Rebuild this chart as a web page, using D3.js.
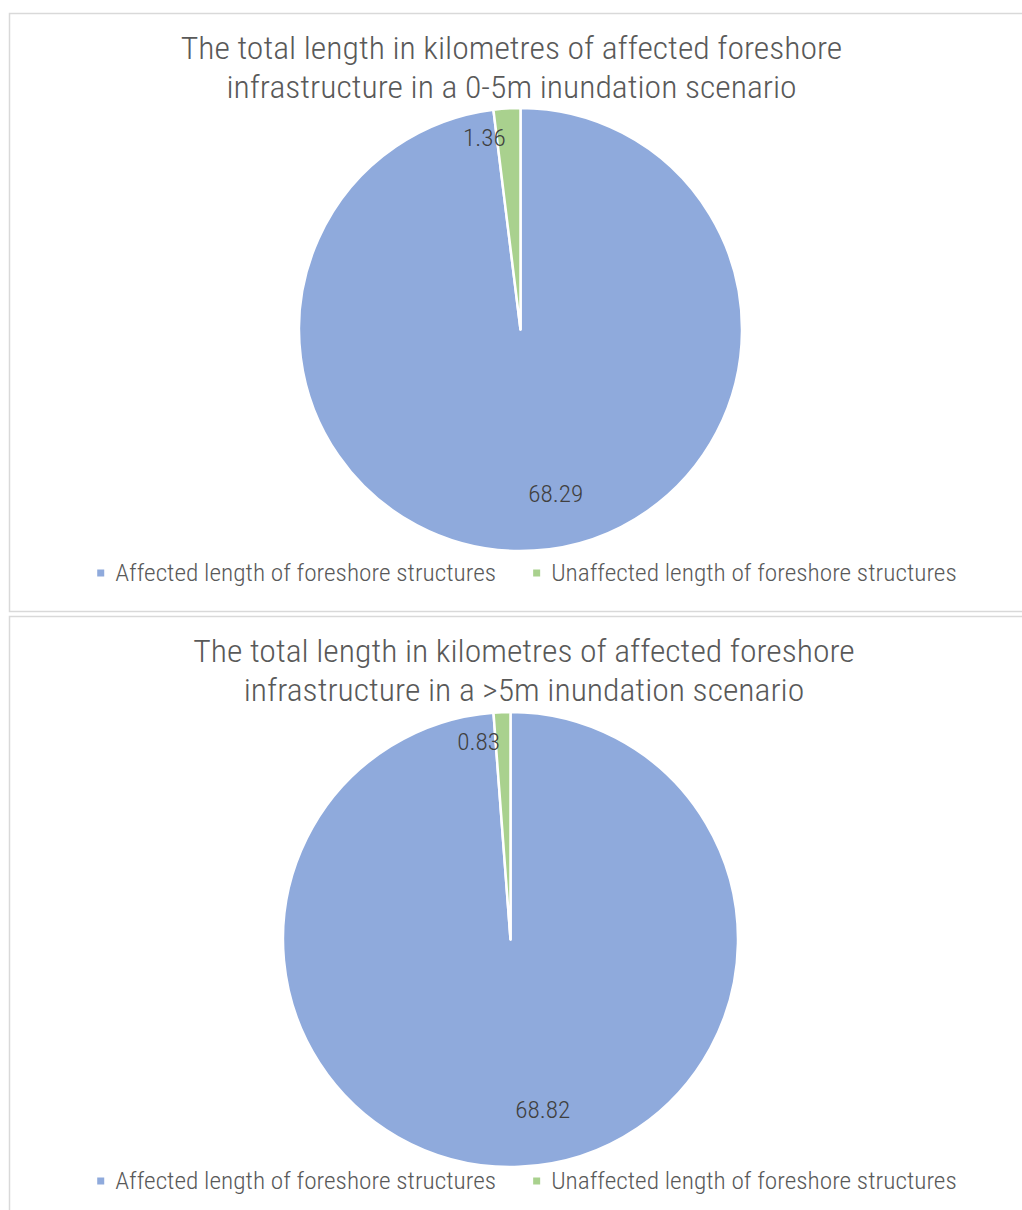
<!DOCTYPE html>
<html>
<head>
<meta charset="utf-8">
<script src="https://cdn.jsdelivr.net/npm/d3@7"></script>
<style>
  html, body { margin: 0; padding: 0; background: #ffffff; }
  svg { display: block; }
</style>
</head>
<body>
<svg id="chart" width="1022" height="1210"></svg>
<script>
// ---- Data ----
const categories = ["Affected length of foreshore structures", "Unaffected length of foreshore structures"];
const titles05 = ["The total length in kilometres of affected foreshore", "infrastructure in a 0-5m inundation scenario"];
const titles5plus = ["The total length in kilometres of affected foreshore", "infrastructure in a >5m inundation scenario"];
const values05 = [68.29, 1.36];
const values5plus = [68.82, 0.83];
const colors = ["#8FAADC", "#A9D18E"];

// ---- Layout ----
const FONT = "'Liberation Sans Narrow', 'Roboto Condensed', 'Open Sans', sans-serif";
const panels = [
  { title: titles05, values: values05, box: { x: 9.5, y: 13.5, h: 598 },
    titleX: 511.5, titleY: [59, 98], cx: 520.5, cy: 329.5, r: 221.5, legendY: 573, legendCX: 527 },
  { title: titles5plus, values: values5plus, box: { x: 9.5, y: 616.5, h: 700 },
    titleX: 524, titleY: [662, 701], cx: 510.5, cy: 939.5, r: 227.5, legendY: 1181, legendCX: 527 }
];

const svg = d3.select("#chart");
const color = d3.scaleOrdinal().domain(categories).range(colors);
const pie = d3.pie().sort(null).value(d => d.v);

function stretch(sel, k) {
  const w = sel.node().getComputedTextLength();
  sel.attr("textLength", w * k).attr("lengthAdjust", "spacingAndGlyphs");
  return w * k;
}

panels.forEach(p => {
  const g = svg.append("g");
  g.append("rect")
    .attr("x", p.box.x).attr("y", p.box.y)
    .attr("width", 1100).attr("height", p.box.h)
    .attr("fill", "#fff").attr("stroke", "#d9d9d9").attr("stroke-width", 1.5);

  p.title.forEach((t, i) => {
    const tt = g.append("text")
      .attr("x", p.titleX).attr("y", p.titleY[i])
      .attr("text-anchor", "middle")
      .attr("font-family", FONT).attr("font-size", 31).attr("font-weight", 300)
      .attr("fill", "#595959")
      .text(t);
    stretch(tt, 1.086);
  });

  const data = categories.map((c, i) => ({ c, v: p.values[i] }));
  const arcs = pie(data);
  const arc = d3.arc().innerRadius(0).outerRadius(p.r);
  const pg = g.append("g").attr("transform", `translate(${p.cx},${p.cy})`);
  pg.selectAll("path").data(arcs).join("path")
    .attr("d", arc)
    .attr("fill", d => color(d.data.c))
    .attr("stroke", "#fff").attr("stroke-width", 2.5).attr("stroke-linejoin", "round");

  // Data labels
  arcs.forEach((d, i) => {
    const mid = (d.startAngle + d.endAngle) / 2;
    let ang, rad, anchor;
    if (i === 0) { ang = mid - 0.15; rad = 0.76 * p.r; anchor = "middle"; }
    else { ang = mid - 0.015; rad = 0.87 * p.r; anchor = "end"; }
    const lt = pg.append("text")
      .attr("x", Math.sin(ang) * rad)
      .attr("y", -Math.cos(ang) * rad)
      .attr("dy", "0.35em")
      .attr("text-anchor", anchor)
      .attr("font-family", FONT).attr("font-size", 24).attr("font-weight", 300)
      .attr("fill", "#404040")
      .text(d3.format(".2f")(d.data.v));
    stretch(lt, 1.05);
  });

  // Legend
  const lg = g.append("g");
  const items = categories.map((c, i) => {
    const it = lg.append("g");
    it.append("rect").attr("width", 7).attr("height", 7).attr("y", -3.5)
      .attr("fill", color(c));
    const tx = it.append("text").attr("x", 18).attr("dy", "0.35em")
      .attr("font-family", FONT).attr("font-size", 24).attr("font-weight", 300)
      .attr("fill", "#595959").text(c);
    const w = stretch(tx, 1.055);
    return { it, w: 18 + w };
  });
  const gap = 37;
  const total = d3.sum(items, d => d.w) + gap * (items.length - 1);
  let x = p.legendCX - total / 2;
  items.forEach(d => { d.it.attr("transform", `translate(${x},${p.legendY})`); x += d.w + gap; });
});
</script>
</body>
</html>
